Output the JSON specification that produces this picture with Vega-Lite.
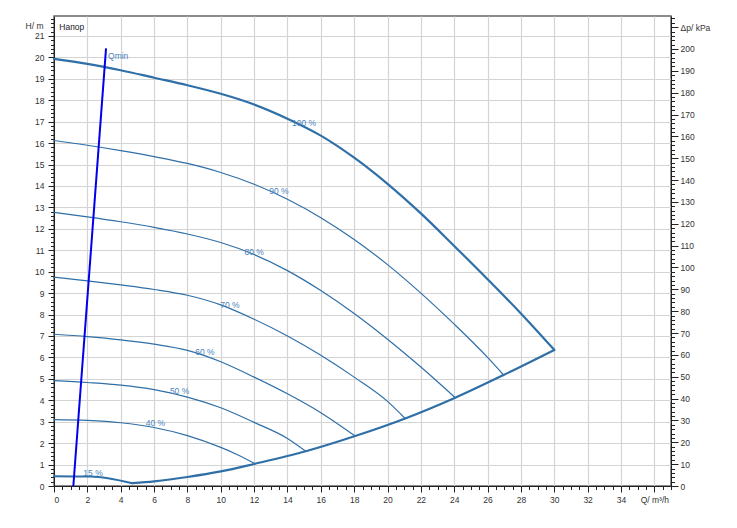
{
  "$schema": "https://vega.github.io/schema/vega-lite/v6.json",
  "width": 617,
  "height": 470,
  "autosize": "none",
  "padding": {"left": 54, "top": 16, "right": 66, "bottom": 42},
  "background": "white",
  "config": {
    "font": "Liberation Sans",
    "view": {"stroke": "#666", "strokeWidth": 1.5},
    "axis": {"labelFont": "Liberation Sans", "labelFontSize": 8.5, "labelColor": "#333", "tickColor": "#222", "domainColor": "#222", "titleFont": "Liberation Sans", "titleFontSize": 8.5, "titleFontWeight": "normal", "titleColor": "#333"}
  },
  "datasets": {
    "curves": [
      {"curve": "100 %", "Q": 0, "H": 19.93}, {"curve": "100 %", "Q": 2, "H": 19.7}, {"curve": "100 %", "Q": 4, "H": 19.4}, {"curve": "100 %", "Q": 6, "H": 19.05}, {"curve": "100 %", "Q": 8, "H": 18.7}, {"curve": "100 %", "Q": 10, "H": 18.3}, {"curve": "100 %", "Q": 12, "H": 17.8}, {"curve": "100 %", "Q": 14, "H": 17.14}, {"curve": "100 %", "Q": 16, "H": 16.35}, {"curve": "100 %", "Q": 18, "H": 15.32}, {"curve": "100 %", "Q": 20, "H": 14.1}, {"curve": "100 %", "Q": 22, "H": 12.72}, {"curve": "100 %", "Q": 24, "H": 11.2}, {"curve": "100 %", "Q": 26, "H": 9.65}, {"curve": "100 %", "Q": 28, "H": 8.05}, {"curve": "100 %", "Q": 30, "H": 6.35},
      {"curve": "90 %", "Q": 0, "H": 16.12}, {"curve": "90 %", "Q": 2, "H": 15.9}, {"curve": "90 %", "Q": 4, "H": 15.65}, {"curve": "90 %", "Q": 6, "H": 15.37}, {"curve": "90 %", "Q": 8, "H": 15.05}, {"curve": "90 %", "Q": 10, "H": 14.63}, {"curve": "90 %", "Q": 12, "H": 14.08}, {"curve": "90 %", "Q": 14, "H": 13.38}, {"curve": "90 %", "Q": 16, "H": 12.52}, {"curve": "90 %", "Q": 18, "H": 11.5}, {"curve": "90 %", "Q": 20, "H": 10.33}, {"curve": "90 %", "Q": 22, "H": 9.0}, {"curve": "90 %", "Q": 24, "H": 7.55}, {"curve": "90 %", "Q": 26, "H": 6.0}, {"curve": "90 %", "Q": 26.96, "H": 5.18},
      {"curve": "80 %", "Q": 0, "H": 12.77}, {"curve": "80 %", "Q": 2, "H": 12.56}, {"curve": "80 %", "Q": 4, "H": 12.33}, {"curve": "80 %", "Q": 6, "H": 12.07}, {"curve": "80 %", "Q": 8, "H": 11.76}, {"curve": "80 %", "Q": 10, "H": 11.36}, {"curve": "80 %", "Q": 12, "H": 10.8}, {"curve": "80 %", "Q": 14, "H": 10.05}, {"curve": "80 %", "Q": 16, "H": 9.12}, {"curve": "80 %", "Q": 18, "H": 8.05}, {"curve": "80 %", "Q": 20, "H": 6.85}, {"curve": "80 %", "Q": 22, "H": 5.55}, {"curve": "80 %", "Q": 24.06, "H": 4.12},
      {"curve": "70 %", "Q": 0, "H": 9.75}, {"curve": "70 %", "Q": 2, "H": 9.57}, {"curve": "70 %", "Q": 4, "H": 9.38}, {"curve": "70 %", "Q": 6, "H": 9.17}, {"curve": "70 %", "Q": 8, "H": 8.9}, {"curve": "70 %", "Q": 10, "H": 8.45}, {"curve": "70 %", "Q": 12, "H": 7.78}, {"curve": "70 %", "Q": 14, "H": 7.0}, {"curve": "70 %", "Q": 16, "H": 6.1}, {"curve": "70 %", "Q": 18, "H": 5.08}, {"curve": "70 %", "Q": 20, "H": 3.95}, {"curve": "70 %", "Q": 21.06, "H": 3.15},
      {"curve": "60 %", "Q": 0, "H": 7.08}, {"curve": "60 %", "Q": 2, "H": 6.97}, {"curve": "60 %", "Q": 4, "H": 6.82}, {"curve": "60 %", "Q": 6, "H": 6.62}, {"curve": "60 %", "Q": 8, "H": 6.33}, {"curve": "60 %", "Q": 10, "H": 5.8}, {"curve": "60 %", "Q": 12, "H": 5.08}, {"curve": "60 %", "Q": 14, "H": 4.3}, {"curve": "60 %", "Q": 16, "H": 3.42}, {"curve": "60 %", "Q": 18.06, "H": 2.33},
      {"curve": "50 %", "Q": 0, "H": 4.92}, {"curve": "50 %", "Q": 2, "H": 4.83}, {"curve": "50 %", "Q": 4, "H": 4.71}, {"curve": "50 %", "Q": 6, "H": 4.5}, {"curve": "50 %", "Q": 8, "H": 4.15}, {"curve": "50 %", "Q": 10, "H": 3.65}, {"curve": "50 %", "Q": 12, "H": 2.97}, {"curve": "50 %", "Q": 14, "H": 2.22}, {"curve": "50 %", "Q": 15.1, "H": 1.62},
      {"curve": "40 %", "Q": 0, "H": 3.1}, {"curve": "40 %", "Q": 2, "H": 3.06}, {"curve": "40 %", "Q": 4, "H": 2.95}, {"curve": "40 %", "Q": 6, "H": 2.73}, {"curve": "40 %", "Q": 8, "H": 2.35}, {"curve": "40 %", "Q": 10, "H": 1.8}, {"curve": "40 %", "Q": 11, "H": 1.46}, {"curve": "40 %", "Q": 12.06, "H": 1.04},
      {"curve": "15 %", "Q": 0, "H": 0.46}, {"curve": "15 %", "Q": 2.2, "H": 0.44}, {"curve": "15 %", "Q": 4.7, "H": 0.13},
      {"curve": "limit", "Q": 4.7, "H": 0.13}, {"curve": "limit", "Q": 6, "H": 0.22}, {"curve": "limit", "Q": 8, "H": 0.42}, {"curve": "limit", "Q": 10, "H": 0.68}, {"curve": "limit", "Q": 12.06, "H": 1.04}, {"curve": "limit", "Q": 15.1, "H": 1.62}, {"curve": "limit", "Q": 18.06, "H": 2.33}, {"curve": "limit", "Q": 21.06, "H": 3.15}, {"curve": "limit", "Q": 24.06, "H": 4.12}, {"curve": "limit", "Q": 26.96, "H": 5.18}, {"curve": "limit", "Q": 30, "H": 6.35}
    ],
    "qmin": [
      {"Q": 1.16, "H": 0}, {"Q": 3.12, "H": 20.42}
    ],
    "leftLabels": [
      {"label": "Напор", "Q": 0.32, "H": 21.43},
      {"label": "Qmin", "Q": 3.24, "H": 20.07}
    ],
    "curveLabels": [
      {"label": "100 %", "Q": 14.99, "H": 16.95},
      {"label": "90 %", "Q": 13.49, "H": 13.78},
      {"label": "80 %", "Q": 12.0, "H": 10.92},
      {"label": "70 %", "Q": 10.55, "H": 8.43},
      {"label": "60 %", "Q": 9.05, "H": 6.24},
      {"label": "50 %", "Q": 7.53, "H": 4.43},
      {"label": "40 %", "Q": 6.08, "H": 2.93},
      {"label": "15 %", "Q": 2.34, "H": 0.59}
    ],
    "pressure": [
      {"kPa": 0}, {"kPa": 210}
    ]
  },
  "resolve": {"scale": {"y": "independent"}, "axis": {"x": "independent", "y": "independent"}},
  "layer": [
    {
      "data": {"name": "curves"},
      "mark": {"type": "line", "color": "#2f6fa7", "interpolate": "monotone", "strokeCap": "round", "strokeJoin": "round"},
      "encoding": {
        "x": {"field": "Q", "type": "quantitative", "scale": {"domain": [0, 37], "nice": false, "zero": false},
          "axis": {"orient": "bottom", "values": [0,2,4,6,8,10,12,14,16,18,20,22,24,26,28,30,32,34,36], "grid": true, "gridColor": "#d4d4d4", "gridWidth": 1.2, "tickSize": 6, "labelPadding": 3, "domain": true, "title": null, "labelExpr": "datum.value == 36 ? 'Q/ m³/h' : datum.label"}},
        "y": {"field": "H", "type": "quantitative", "scale": {"domain": [0, 21.93], "nice": false, "zero": false},
          "axis": {"orient": "left", "values": [0,1,2,3,4,5,6,7,8,9,10,11,12,13,14,15,16,17,18,19,20,21], "grid": true, "gridColor": "#d4d4d4", "gridWidth": 1.2, "tickSize": 6, "labelPadding": 4, "domain": true, "title": "H/ m", "titleAngle": 0, "titleAlign": "right", "titleBaseline": "middle", "titleX": -11, "titleY": 9}},
        "detail": {"field": "curve", "type": "nominal"},
        "strokeWidth": {"field": "curve", "type": "nominal", "legend": null,
          "scale": {"type": "ordinal", "domain": ["100 %", "90 %", "80 %", "70 %", "60 %", "50 %", "40 %", "15 %", "limit"], "range": [2.2, 1.2, 1.2, 1.2, 1.2, 1.2, 1.2, 2, 2.2]}}
      }
    },
    {
      "data": {"name": "qmin"},
      "mark": {"type": "line", "color": "#0000ee", "strokeWidth": 2},
      "encoding": {
        "x": {"field": "Q", "type": "quantitative", "scale": {"domain": [0, 37], "nice": false, "zero": false},
          "axis": {"orient": "bottom", "tickCount": 74, "labels": false, "grid": false, "tickSize": 3.5, "domain": false, "title": null}},
        "y": {"field": "H", "type": "quantitative", "scale": {"domain": [0, 21.93], "nice": false, "zero": false},
          "axis": {"orient": "left", "tickCount": 110, "labels": false, "grid": false, "tickSize": 3.5, "domain": false, "title": null}}
      }
    },
    {
      "data": {"name": "leftLabels"},
      "mark": {"type": "text", "fontSize": 8.5, "baseline": "middle", "align": "left"},
      "encoding": {
        "x": {"field": "Q", "type": "quantitative", "scale": {"domain": [0, 37], "nice": false, "zero": false}, "axis": null},
        "y": {"field": "H", "type": "quantitative", "scale": {"domain": [0, 21.93], "nice": false, "zero": false}, "axis": null},
        "text": {"field": "label"},
        "color": {"condition": {"test": "datum.label === 'Напор'", "value": "#222"}, "value": "#4a84bd"}
      }
    },
    {
      "data": {"name": "curveLabels"},
      "mark": {"type": "text", "fontSize": 8.5, "baseline": "middle", "align": "center", "color": "#4a84bd"},
      "encoding": {
        "x": {"field": "Q", "type": "quantitative", "scale": {"domain": [0, 37], "nice": false, "zero": false}, "axis": null},
        "y": {"field": "H", "type": "quantitative", "scale": {"domain": [0, 21.93], "nice": false, "zero": false}, "axis": null},
        "text": {"field": "label"}
      }
    },
    {
      "data": {"name": "pressure"},
      "mark": {"type": "point", "opacity": 0},
      "encoding": {
        "y": {"field": "kPa", "type": "quantitative", "scale": {"domain": [0, 215.1], "nice": false, "zero": false},
          "axis": {"orient": "right", "values": [0,10,20,30,40,50,60,70,80,90,100,110,120,130,140,150,160,170,180,190,200,210], "grid": false, "tickSize": 7, "labelPadding": 2, "domain": true, "title": null, "labelExpr": "datum.value == 210 ? 'Δp/ kPa' : datum.label"}}
      }
    },
    {
      "data": {"name": "pressure"},
      "mark": {"type": "point", "opacity": 0},
      "encoding": {
        "y": {"field": "kPa", "type": "quantitative", "scale": {"domain": [0, 215.1], "nice": false, "zero": false},
          "axis": {"orient": "right", "tickCount": 108, "labels": false, "grid": false, "tickSize": 3.5, "domain": false, "title": null}}
      }
    }
  ]
}
